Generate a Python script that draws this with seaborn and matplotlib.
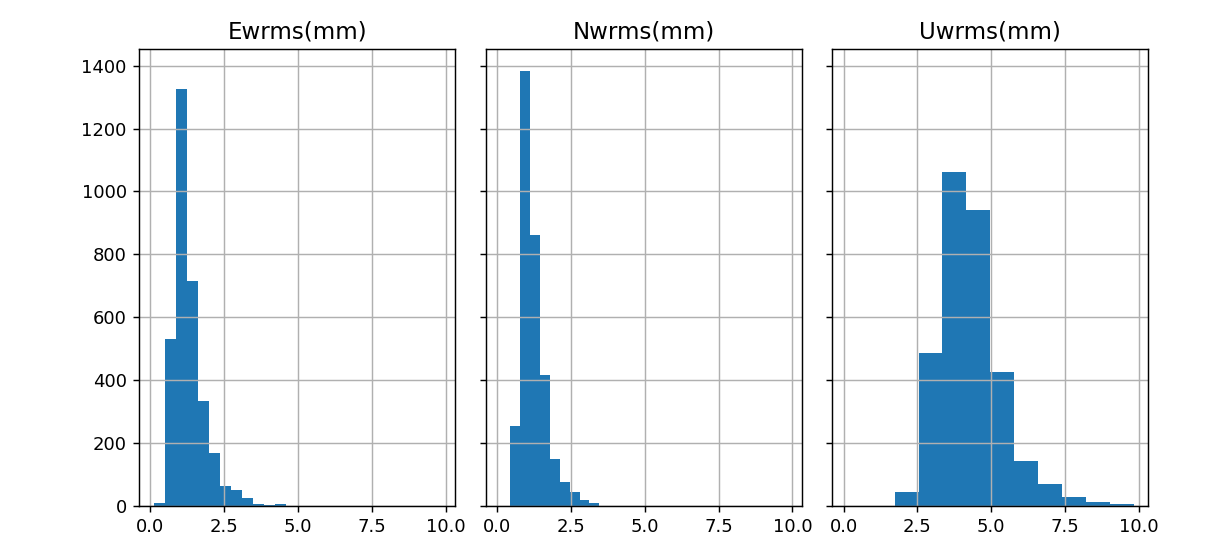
import numpy as np
import pandas as pd
import matplotlib
matplotlib.use("Agg")
import matplotlib.pyplot as plt
import seaborn as sns

# Histogram counts (bin range + counts per bin)
titles = ["Ewrms(mm)", "Nwrms(mm)", "Uwrms(mm)"]

e_range = (0.11, 9.82)
e_counts = [10, 530, 1326, 714, 332, 167, 64, 50, 23, 5, 2, 6, 0,
            0, 0, 0, 0, 0, 0, 0, 0, 0, 0, 0, 0, 0]

n_range = (0.45, 9.82)
n_counts = [255, 1383, 860, 415, 149, 77, 44, 18, 9, 0, 0, 0, 0, 0,
            0, 0, 0, 0, 0, 0, 0, 0, 0, 0, 0, 0, 0, 0]

u_range = (1.73, 9.82)
u_counts = [45, 487, 1061, 940, 424, 142, 68, 27, 13, 4]

series = [(e_range, e_counts), (n_range, n_counts), (u_range, u_counts)]

fig, axes = plt.subplots(1, 3, figsize=(9.27, 4.154), dpi=130, sharex=True, sharey=True)
fig.subplots_adjust(left=0.1156, right=0.9527, bottom=0.0635, top=0.9087, wspace=0.098)

for ax, title, (rng, counts) in zip(axes, titles, series):
    edges = np.linspace(rng[0], rng[1], len(counts) + 1)
    df = pd.DataFrame({"val": (edges[:-1] + edges[1:]) / 2, "n": counts})
    sns.histplot(data=df, x="val", weights="n", bins=list(edges), ax=ax,
                 color="#1f77b4", alpha=1, linewidth=0, edgecolor="none")
    ax.set_title(title, fontsize=12.7)
    ax.set_xlabel("")
    ax.set_ylabel("")
    ax.grid(True)
    ax.set_xticks([0.0, 2.5, 5.0, 7.5, 10.0])

plt.savefig("out.png", dpi=130)
